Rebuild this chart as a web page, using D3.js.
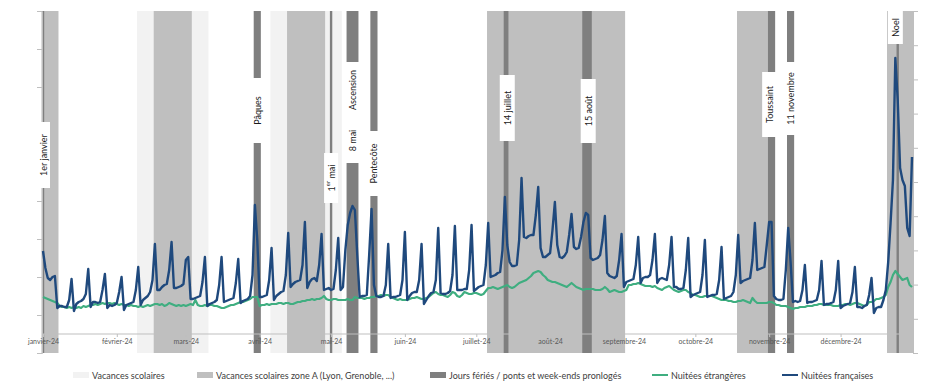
<!DOCTYPE html>
<html>
<head>
<meta charset="utf-8">
<script src="https://cdn.jsdelivr.net/npm/d3@7"></script>
<style>
  body { margin: 0; background: #fff; }
  svg { display: block; font-family: "Liberation Sans Narrow", "Lato", sans-serif; }
</style>
</head>
<body>
<svg id="chart" width="943" height="389"></svg>
<script>
// Nuitées françaises, une valeur par jour (index, lundi -> dimanche), à partir du 1er janvier 2024
const nuiteesFrancaises = [
  102, 85, 75, 73, 76, 77, 45,   // 1 janv
  47, 47, 46, 46, 53, 74, 42,
  49, 51, 52, 54, 59, 84, 46,
  51, 51, 50, 51, 63, 79, 45,
  48, 47, 48, 50, 61, 76, 43,    // 29 janv
  48, 49, 50, 51, 63, 86, 48,
  53, 55, 57, 61, 73, 109, 63,
  63, 66, 68, 69, 83, 111, 65,
  65, 66, 67, 69, 93, 96, 54,    // 26 févr
  54, 55, 56, 57, 71, 96, 47,
  49, 50, 51, 53, 68, 96, 51,
  52, 53, 54, 55, 70, 94, 50,
  52, 53, 54, 57, 78, 148, 113,  // 25 mars
  56, 56, 57, 58, 73, 105, 53,
  57, 59, 61, 62, 78, 120, 66,
  69, 71, 72, 73, 88, 131, 65,
  71, 74, 75, 72, 88, 119, 63,
  64, 65, 63, 64, 83, 115, 63,   // 29 avr
  66, 103, 128, 140, 147, 143, 98,
  56, 57, 57, 58, 98, 144, 68,
  57, 56, 56, 57, 68, 109, 55,
  56, 56, 57, 58, 73, 121, 53,   // 27 mai
  57, 60, 61, 61, 73, 109, 49,
  53, 57, 60, 61, 73, 125, 60,
  59, 59, 60, 62, 78, 127, 63,
  63, 63, 64, 64, 83, 128, 62,
  64, 66, 67, 68, 88, 130, 76,   // 1 juil
  77, 78, 80, 81, 103, 156, 108,
  91, 87, 87, 88, 113, 175, 116,
  115, 117, 118, 118, 138, 166, 105,
  96, 96, 98, 100, 123, 151, 108, // 29 juil
  96, 95, 97, 101, 118, 139, 106,
  104, 105, 116, 131, 140, 138, 95,
  93, 94, 95, 98, 113, 137, 80,
  77, 76, 75, 77, 93, 119, 66,   // 26 août
  71, 72, 73, 74, 88, 116, 70,
  75, 76, 76, 78, 93, 119, 70,
  74, 75, 74, 73, 88, 116, 66,
  66, 64, 64, 65, 83, 115, 56,
  58, 59, 60, 61, 78, 113, 56,   // 30 sept
  57, 58, 58, 59, 73, 106, 54,
  55, 56, 57, 61, 78, 118, 70,
  72, 73, 74, 75, 93, 130, 83,
  84, 85, 86, 108, 131, 131, 57, // 28 oct
  54, 53, 53, 54, 83, 125, 91,
  51, 52, 51, 52, 63, 88, 50,
  51, 51, 52, 53, 63, 92, 48,
  49, 49, 50, 51, 63, 92, 45,    // 25 nov
  47, 48, 49, 50, 61, 86, 46,
  46, 45, 47, 48, 58, 75, 40,
  45, 46, 46, 53, 63, 91, 130,
  173, 295, 253, 185, 173, 167, 125, // 23 déc
  117, 196
];

// Nuitées étrangères, même découpage
const nuiteesEtrangeres = [
  56, 55, 54, 53, 52, 51, 50,
  47, 46, 46, 45, 46, 45, 46,
  45, 46, 45, 47, 46, 47, 48,
  48, 49, 48, 49, 50, 49, 50,
  50, 49, 50, 49, 48, 49, 48,
  48, 47, 48, 47, 47, 46, 47,
  46, 47, 48, 47, 48, 49, 49,
  48, 49, 47, 48, 50, 49, 48,
  47, 48, 47, 48, 47, 48, 49,
  48, 53, 48, 47, 47, 48, 47,
  48, 48, 47, 47, 46, 45, 45,
  46, 47, 48, 48, 49, 50, 51,
  51, 52, 53, 54, 56, 56, 56,
  47, 48, 48, 49, 48, 49, 49,
  49, 50, 50, 49, 50, 50, 49,
  49, 50, 51, 51, 52, 52, 53,
  53, 54, 53, 54, 54, 55, 57,
  54, 53, 53, 54, 54, 53, 53,
  53, 53, 54, 53, 53, 56, 55,
  55, 55, 54, 55, 55, 56, 56,
  57, 57, 58, 57, 58, 58, 56,
  55, 54, 53, 54, 53, 53, 53,
  54, 55, 55, 56, 55, 54, 54,
  55, 56, 58, 60, 61, 59, 58,
  58, 57, 56, 58, 61, 60, 57,
  56, 58, 61, 60, 59, 59, 60,
  60, 59, 58, 59, 62, 65, 65,
  66, 65, 64, 65, 66, 67, 68,
  66, 65, 66, 68, 70, 71, 72,
  73, 75, 77, 80, 81, 82, 81,
  78, 76, 73, 72, 71, 71, 70,
  69, 68, 67, 66, 68, 70, 68,
  66, 65, 64, 63, 64, 64, 64,
  64, 63, 63, 63, 64, 66, 64,
  61, 62, 63, 62, 61, 61, 62,
  63, 68, 68, 69, 69, 70, 69,
  68, 67, 67, 67, 66, 67, 65,
  64, 63, 65, 66, 67, 65, 63,
  62, 61, 62, 63, 63, 61, 60,
  58, 58, 57, 56, 56, 57, 57,
  57, 57, 56, 55, 54, 53, 53,
  53, 52, 52, 51, 51, 52, 52,
  53, 52, 51, 50, 55, 52, 50,
  50, 50, 50, 50, 51, 51, 50,
  48, 48, 47, 47, 47, 46, 45,
  44, 45, 45, 46, 46, 46, 47,
  47, 47, 48, 48, 49, 49, 48,
  48, 48, 48, 47, 47, 47, 48,
  48, 49, 49, 48, 49, 50, 50,
  49, 48, 47, 48, 51, 51, 52,
  54, 54, 55, 56, 58, 66, 71,
  78, 82, 79, 76, 73, 74, 75,
  68, 66
];

const moisLabels = ["janvier-24", "février-24", "mars-24", "avril-24", "mai-24", "juin-24",
  "juillet-24", "août-24", "septembre-24", "octobre-24", "novembre-24", "décembre-24"];

// périodes [premier jour, dernier jour]
const vacancesScolaires = [["2024-02-10", "2024-03-10"], ["2024-04-06", "2024-05-05"]];
const vacancesZoneA = [
  ["2024-01-01", "2024-01-07"], ["2024-02-17", "2024-03-03"], ["2024-04-13", "2024-04-28"],
  ["2024-07-06", "2024-09-01"], ["2024-10-19", "2024-11-03"], ["2024-12-21", "2024-12-31"]
];
const joursFeries = [
  ["2024-01-01", "2024-01-01"], ["2024-03-30", "2024-04-01"], ["2024-05-01", "2024-05-01"],
  ["2024-05-08", "2024-05-12"], ["2024-05-18", "2024-05-20"], ["2024-07-13", "2024-07-14"],
  ["2024-08-15", "2024-08-18"], ["2024-11-01", "2024-11-03"], ["2024-11-09", "2024-11-11"],
  ["2024-12-25", "2024-12-25"]
];

const etiquettes = [
  { texte: "1er janvier", date: "2024-01-01" },
  { texte: "Pâques", date: "2024-03-31" },
  { texte: "1er mai", date: "2024-05-01", sup: true },
  { texte: "Ascension", date: "2024-05-10" },
  { texte: "8 mai", date: "2024-05-10" },
  { texte: "Pentecôte", date: "2024-05-19" },
  { texte: "14 juillet", date: "2024-07-14" },
  { texte: "15 août", date: "2024-08-17" },
  { texte: "Toussaint", date: "2024-11-01" },
  { texte: "11 novembre", date: "2024-11-10" },
  { texte: "Noel", date: "2024-12-24" }
];

// cadre blanc de chaque étiquette : [haut, bas, largeur] en px
const cadres = {
  "1er janvier": [122, 188, 14],
  "Pâques": [78, 143, 15],
  "1er mai": [153, 203, 14],
  "Ascension": [62, 118, 19],
  "8 mai": [118, 163, 19],
  "Pentecôte": [131, 196, 14],
  "14 juillet": [75, 141, 15],
  "15 août": [79, 143, 15],
  "Toussaint": [72, 137, 14],
  "11 novembre": [62, 135, 15],
  "Noel": [11, 44, 15]
};

const COL_VAC = "#f2f2f2";
const COL_ZONEA = "#bfbfbf";
const COL_FERIE = "#7f7f7f";
const COL_FR = "#1f497d";
const COL_ETR = "#3fae80";

const svg = d3.select("#chart");
const parse = d3.utcParse("%Y-%m-%d");
const debut = new Date(Date.UTC(2024, 0, 1));
const fin = new Date(Date.UTC(2024, 11, 31));
const jour = i => d3.utcDay.offset(debut, i);

const x = d3.scaleUtc().domain([debut, fin]).range([43, 912]);
const y = d3.scaleLinear().domain([0, 342]).range([353, 11]);
const yDroite = d3.scaleLinear().domain([0, 1000]).range([353, 11]);
const yAxeX = 19; // valeur où l'axe horizontal croise

// bandes verticales (centrées sur les jours)
const bandes = (periodes, couleur) => {
  svg.append("g")
    .selectAll("rect")
    .data(periodes)
    .join("rect")
    .attr("x", d => x(d3.utcHour.offset(parse(d[0]), -12)))
    .attr("width", d => x(d3.utcHour.offset(parse(d[1]), 12)) - x(d3.utcHour.offset(parse(d[0]), -12)))
    .attr("y", y(342))
    .attr("height", y(0) - y(342))
    .attr("fill", couleur);
};
bandes(vacancesScolaires, COL_VAC);
bandes(vacancesZoneA, COL_ZONEA);
bandes(joursFeries, COL_FERIE);

// axe gauche
svg.append("g")
  .attr("transform", "translate(42,0)")
  .call(d3.axisLeft(y).tickValues(d3.range(0, 343, 38)).tickSize(5).tickFormat(""))
  .call(g => g.selectAll("path, line").attr("stroke", "#bfbfbf"));

// axe droit
svg.append("g")
  .attr("transform", "translate(913,0)")
  .call(d3.axisRight(yDroite).tickValues(d3.range(0, 1001, 100)).tickSize(5).tickFormat(""))
  .call(g => g.selectAll("path, line").attr("stroke", "#bfbfbf"));

// axe horizontal
const debutsMois = d3.utcMonths(debut, d3.utcDay.offset(fin, 1));
svg.append("g")
  .attr("transform", `translate(0,${y(yAxeX)})`)
  .call(d3.axisBottom(x).tickValues(debutsMois).tickSize(3).tickPadding(2)
    .tickFormat((d, i) => moisLabels[i]))
  .call(g => g.select(".domain").remove())
  .call(g => g.selectAll(".tick line").attr("stroke", "#bfbfbf"))
  .call(g => g.selectAll(".tick text")
    .attr("fill", "#595959")
    .style("font-size", "7px")
    .style("font-family", "'Liberation Sans Narrow', 'Lato', sans-serif"));
svg.append("line")
  .attr("x1", 42).attr("x2", 913)
  .attr("y1", y(yAxeX)).attr("y2", y(yAxeX))
  .attr("stroke", "#bfbfbf");

// étiquettes des jours fériés
const gEtiq = svg.append("g");
etiquettes.forEach(e => {
  const [haut, bas, larg] = cadres[e.texte];
  const cx = x(parse(e.date));
  gEtiq.append("rect")
    .attr("x", cx - larg / 2).attr("width", larg)
    .attr("y", haut).attr("height", bas - haut)
    .attr("fill", "#fff");
  const t = gEtiq.append("text")
    .attr("transform", `translate(${cx},${(haut + bas) / 2}) rotate(-90)`)
    .attr("text-anchor", "middle")
    .attr("dominant-baseline", "central")
    .attr("fill", "#1a1a1a")
    .style("font-size", "9px");
  if (e.sup) {
    t.append("tspan").text("1");
    t.append("tspan").text("er").attr("baseline-shift", "super").style("font-size", "6px");
    t.append("tspan").text(" mai");
  } else {
    t.text(e.texte);
  }
});

// courbes
const ligne = d3.line()
  .x((d, i) => x(jour(i)))
  .y(d => y(d));

svg.append("path")
  .datum(nuiteesEtrangeres)
  .attr("d", ligne)
  .attr("fill", "none")
  .attr("stroke", COL_ETR)
  .attr("stroke-width", 2.2)
  .attr("stroke-linejoin", "round");

svg.append("path")
  .datum(nuiteesFrancaises)
  .attr("d", ligne)
  .attr("fill", "none")
  .attr("stroke", COL_FR)
  .attr("stroke-width", 2.4)
  .attr("stroke-linejoin", "round");

// légende
const legende = [
  { nom: "Vacances scolaires", type: "rect", couleur: COL_VAC },
  { nom: "Vacances scolaires zone A (Lyon, Grenoble, ...)", type: "rect", couleur: COL_ZONEA },
  { nom: "Jours fériés / ponts et week-ends pronlogés", type: "rect", couleur: COL_FERIE },
  { nom: "Nuitées étrangères", type: "line", couleur: COL_ETR },
  { nom: "Nuitées françaises", type: "line", couleur: COL_FR }
];
const legendeX = [73, 197, 430, 652, 782];
const legY = 375;

const gLeg = svg.append("g");
legende.forEach((d, i) => {
  const lx = legendeX[i];
  if (d.type === "rect") {
    gLeg.append("rect").attr("x", lx).attr("y", legY - 3).attr("width", 16).attr("height", 6).attr("fill", d.couleur);
  } else {
    gLeg.append("line").attr("x1", lx).attr("x2", lx + 16).attr("y1", legY).attr("y2", legY)
      .attr("stroke", d.couleur).attr("stroke-width", 2);
  }
  gLeg.append("text")
    .attr("x", lx + 19).attr("y", legY)
    .attr("dominant-baseline", "central")
    .attr("fill", "#404040")
    .style("font-size", "9px")
    .text(d.nom);
});
</script>
</body>
</html>
